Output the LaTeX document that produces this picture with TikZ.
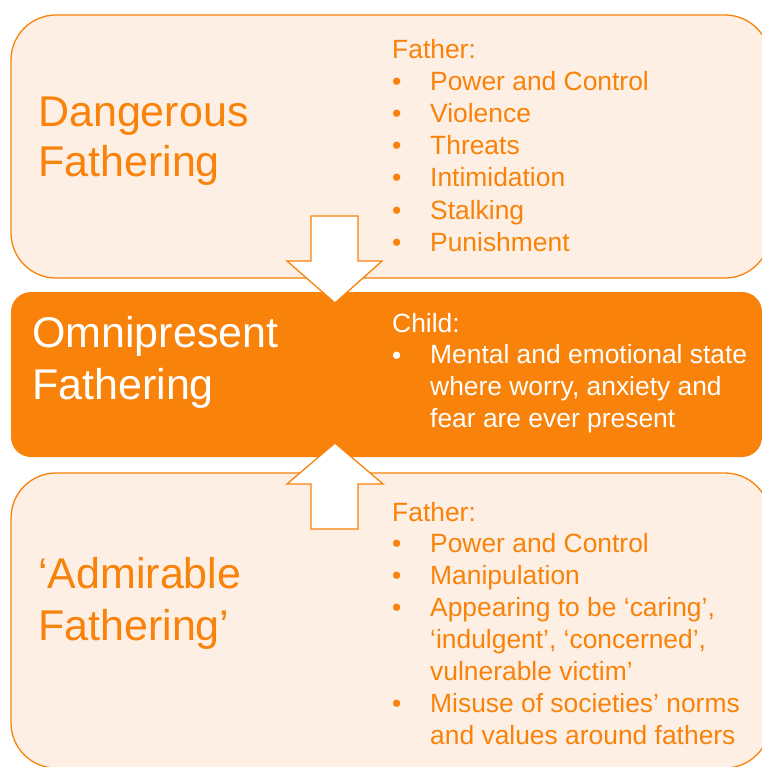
\documentclass[tikz,border=0pt]{standalone}
\usepackage{fontspec}
\setmainfont{Liberation Sans}
\definecolor{fatherorange}{RGB}{248,130,10}
\definecolor{fatherpeach}{RGB}{253,239,227}
\tikzset{
  panel/.style={draw=fatherorange, line width=1.3pt, fill=fatherpeach, rounded corners=45pt},
  hotpanel/.style={fill=fatherorange, rounded corners=20pt},
  blockarrow/.style={draw=fatherorange, line width=1.3pt, fill=white, line join=miter},
  title/.style={anchor=base west, inner sep=0pt, text=fatherorange, font=\fontsize{43}{50}\selectfont},
  item/.style={anchor=base west, inner sep=0pt, text=fatherorange, font=\fontsize{26.4}{31}\selectfont},
}
\begin{document}
\begin{tikzpicture}[x=1pt, y=-1pt, line join=round]
  \useasboundingbox (0,0) rectangle (761,767);
  % the three panels
  \draw[panel] (11,15) rectangle (770,278);
  \fill[hotpanel] (11,292) rectangle (762,457);
  \draw[panel] (11,473) rectangle (770,768);

  % arrows pointing into the middle panel
  \draw[blockarrow] (311,216) -- (358,216) -- (358,261) -- (382,261) -- (335,303)
    -- (287,261) -- (311,261) -- cycle;
  \draw[blockarrow] (335,443) -- (383,484) -- (358,484) -- (358,529) -- (311,529)
    -- (311,484) -- (287,484) -- cycle;

  % titles
  \node[title] (dangerous) at (38,127) {Dangerous};
  \node[title] (dangerous2) at (38,177) {Fathering};
  \node[title, text=white] (omni) at (32,347) {Omnipresent};
  \node[title, text=white] (omni2) at (32,399) {Fathering};
  \node[title] (admirable) at (38,588) {‘Admirable};
  \node[title] (admirable2) at (38,640) {Fathering’};

  % top list
  \node[item] (topfather) at (392,59) {Father:};
  \foreach \txt [count=\i] in {Power and Control, Violence, Threats, Intimidation, Stalking, Punishment} {
    \node[item] (topdot-\i) at (392,59+32*\i) {•};
    \node[item] (top-\i) at (430,59+32*\i) {\txt};
  }

  % middle list
  \node[item, text=white] (child) at (392,332) {Child:};
  \node[item, text=white] (middot) at (392,364) {•};
  \foreach \txt [count=\i] in {Mental and emotional state, {where worry, anxiety and}, fear are ever present} {
    \node[item, text=white] (mid-\i) at (430,332+31.7*\i) {\txt};
  }

  % bottom list
  \node[item] (botfather) at (392,521) {Father:};
  \foreach \y in {552,584,616,712}
    \node[item] (botdot-\y) at (392,\y) {•};
  \foreach \txt [count=\i] in {Power and Control, Manipulation, {Appearing to be ‘caring’,},
      {‘indulgent’, ‘concerned’,}, vulnerable victim’, Misuse of societies’ norms,
      and values around fathers} {
    \node[item] (bot-\i) at (430,520+32*\i) {\txt};
  }
\end{tikzpicture}
\end{document}
